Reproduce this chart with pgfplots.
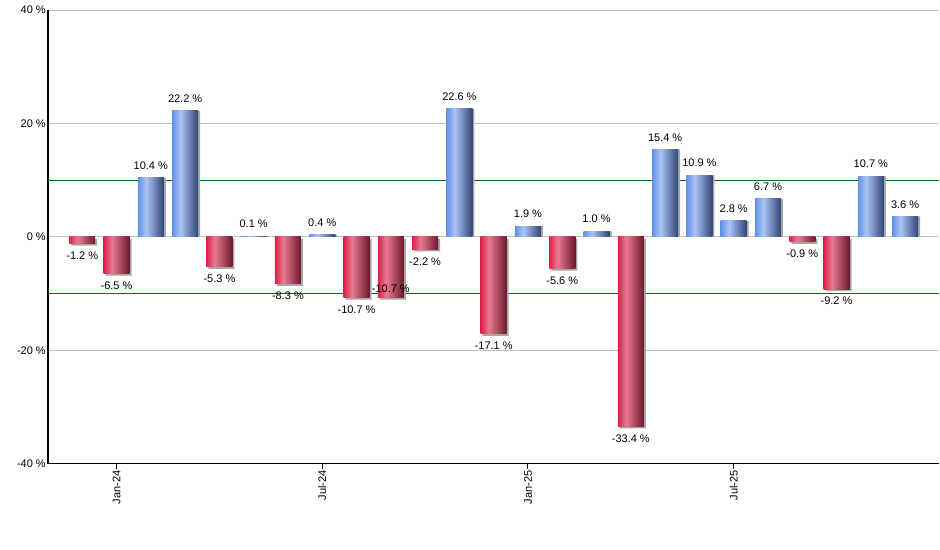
\documentclass[border=0pt]{standalone}
\usepackage{fontspec}
\setmainfont{Liberation Sans}
\usepackage{pgfplots}
\usepackage{pgfplotstable}
\pgfplotsset{compat=1.18}

\definecolor{redL}{RGB}{222,32,72}
\definecolor{redM}{RGB}{232,122,144}
\definecolor{redR}{RGB}{108,24,44}
\definecolor{bluL}{RGB}{98,146,230}
\definecolor{bluM}{RGB}{170,196,244}
\definecolor{bluR}{RGB}{48,68,116}
\definecolor{stdgreen}{RGB}{10,110,10}

\pgfdeclarehorizontalshading{redbar}{100bp}{color(0bp)=(redL); color(25bp)=(redL); color(41bp)=(redM); color(75bp)=(redR); color(100bp)=(redR)}
\pgfdeclarehorizontalshading{blubar}{100bp}{color(0bp)=(bluL); color(25bp)=(bluL); color(41bp)=(bluM); color(75bp)=(bluR); color(100bp)=(bluR)}

% month index 0 = Dec-23 ... 24 = Dec-25
\pgfplotstableread{
x y
0 -1.2
1 -6.5
4 -5.3
6 -8.3
8 -10.7
9 -10.7
10 -2.2
12 -17.1
14 -5.6
16 -33.4
21 -0.9
22 -9.2
}\neg
\pgfplotstableread{
x y
2 10.4
3 22.2
5 0.1
7 0.4
11 22.6
13 1.9
15 1.0
17 15.4
18 10.9
19 2.8
20 6.7
23 10.7
24 3.6
}\pos

\begin{document}
\begin{tikzpicture}
\begin{axis}[
    scale only axis,
    width=892bp, height=454bp,
    xmin=-1, xmax=25, ymin=-40, ymax=40,
    axis x line*=bottom, axis y line*=left,
    axis line style={black, line width=1.2bp},
    font=\fontsize{11bp}{12bp}\selectfont,
    /pgf/number format/assume math mode=true,
    ytick={-40,-20,0,20,40},
    yticklabel={\pgfmathprintnumber{\tick}~\%},
    yticklabel style={inner xsep=1bp, xshift=4bp},
    y tick style={draw=none},
    ymajorgrids,
    major grid style={color=black!25, line width=0.9bp},
    xtick={1,7,13,19},
    xticklabels={Jan-24,Jul-24,Jan-25,Jul-25},
    x tick style={black, line width=1bp},
    tick align=outside,
    major tick length=5bp,
    xticklabel style={rotate=90, anchor=east, inner sep=1.5bp},
    extra y ticks={-10,10},
    extra y tick labels={},
    extra y tick style={grid=major, major grid style={draw=stdgreen, line width=1bp}},
    ybar, bar width=26bp, bar shift=0pt,
    lbl/.style={
        nodes near coords={\pgfmathprintnumber[fixed,fixed zerofill,precision=1]{\pgfplotspointmeta}~\%},
        every node near coord/.append style={black, inner ysep=8bp, font=\fontsize{11bp}{12bp}\selectfont},
    },
    nlbl5/.style={every node near coord/.append style={yshift=21bp}},
]
% shadows
\addplot[draw=none, fill=black!35, bar shift=2bp, yshift=-2bp] table[x=x,y=y] {\neg};
\addplot[draw=none, fill=black!35, bar shift=2bp] table[x=x,y=y] {\pos};
% bars, one plot per bar so that each gets its own shading
\pgfplotsinvokeforeach{0,...,11}{
  \addplot[draw=none, shade, shading=redbar, lbl, nlbl#1/.try,
    restrict expr to domain={\coordindex}{#1:#1}] table[x=x,y=y] {\neg};
}
\pgfplotsinvokeforeach{0,...,12}{
  \addplot[draw=none, shade, shading=blubar, lbl,
    restrict expr to domain={\coordindex}{#1:#1}] table[x=x,y=y] {\pos};
}
\end{axis}
\path (current axis.south west) ++(-48bp,-86bp) coordinate (bl) ++(940bp,550bp) coordinate (tr);
\path (bl) rectangle (tr);
\end{tikzpicture}
\end{document}
